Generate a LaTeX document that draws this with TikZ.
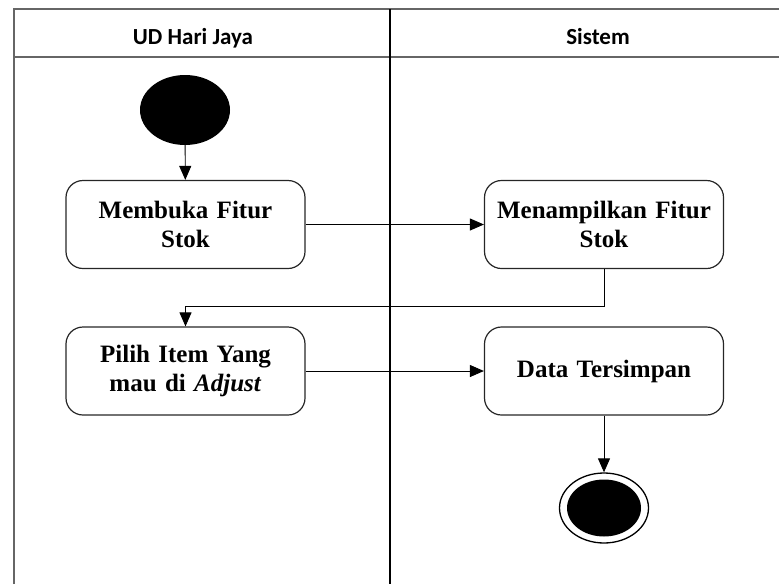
\documentclass[tikz,border=0pt]{standalone}
\usepackage{fontspec}
\setmainfont{Liberation Serif}
\newfontfamily\headfont{Carlito}
\usetikzlibrary{arrows.meta,shapes.geometric}

\tikzset{
  lane/.style={draw=black!60, line width=1.5pt},
  act/.style={draw=black!85, line width=1.2pt, rounded corners=17pt, minimum width=239pt, minimum height=88pt,
    text width=225pt, align=center, font=\fontsize{25}{28.5}\selectfont\bfseries},
  flow/.style={-{Triangle[length=14pt,width=12pt]}, line width=0.9pt},
  head/.style={anchor=base, font=\headfont\fontsize{23}{26}\selectfont\bfseries}
}

\begin{document}
\begin{tikzpicture}[x=1pt, y=-1pt]
    \useasboundingbox (0,0) rectangle (779,584);
    % swimlanes
    \draw[lane] (14,584) -- (14,9) -- (779,9);
    \draw[lane] (14,57) -- (779,57);
    \draw[line width=1.2pt] (390,9) -- (390,584);
    \node[head] (udlane) at (193,44) {UD Hari Jaya};
    \node[head] (sislane) at (598,44) {Sistem};

    % start / end
    \node[ellipse, fill=black, minimum width=90pt, minimum height=70pt, inner sep=0pt] (start) at (185,110) {};
    \node[ellipse, draw, line width=1.3pt, minimum width=89pt, minimum height=70pt, inner sep=0pt] (endo) at (604,508) {};
    \node[ellipse, fill=black, minimum width=74pt, minimum height=57pt, inner sep=0pt] (endi) at (604,508) {};

    % activities
    \node[act] (buka) at (185.5,224.5) {Membuka Fitur\\Stok};
    \node[act] (tampil) at (604,224.5) {Menampilkan Fitur\\Stok};
    \node[act] (pilih) at (185.5,371) {Pilih Item Yang\\mau di \textit{Adjust}};
    \node[act] (simpan) at (604,371) {Data Tersimpan};

    % flows
    \draw[flow] (start) -- (buka);
    \draw[flow] (buka) -- (tampil);
    \draw[flow] (tampil.south) -- ++(0,37) -| (pilih.north);
    \draw[flow] (pilih) -- (simpan);
    \draw[flow] (simpan) -- (endo);
\end{tikzpicture}
\end{document}
